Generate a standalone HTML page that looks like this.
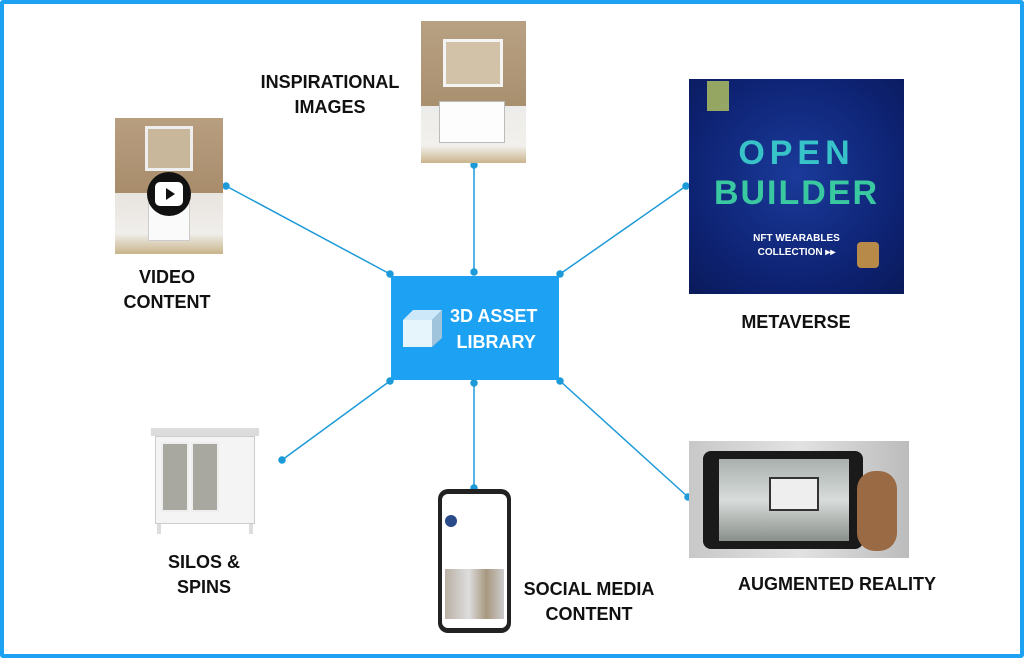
<!DOCTYPE html>
<html><head><meta charset="utf-8"><style>
*{margin:0;padding:0;box-sizing:border-box}
body{width:1024px;height:658px;background:#fff;position:relative;overflow:hidden;font-family:"Liberation Sans",sans-serif}
.frame{position:absolute;left:0;top:0;width:1024px;height:658px;border:4px solid #1da1f2;border-radius:3px}
.lbl{position:absolute;font-weight:bold;font-size:18px;color:#111;text-align:center;line-height:25px;white-space:nowrap}
.img{position:absolute;overflow:hidden}
</style></head><body>
<div class="frame"></div>
<svg width="1024" height="658" style="position:absolute;left:0;top:0">
<g stroke="#1d9ad8" stroke-width="1.5" fill="#1d9ad8">
<line x1="226" y1="186" x2="390" y2="274"/><circle cx="226" cy="186" r="3"/><circle cx="390" cy="274" r="3"/>
<line x1="474" y1="165" x2="474" y2="272"/><circle cx="474" cy="165" r="3"/><circle cx="474" cy="272" r="3"/>
<line x1="686" y1="186" x2="560" y2="274"/><circle cx="686" cy="186" r="3"/><circle cx="560" cy="274" r="3"/>
<line x1="282" y1="460" x2="390" y2="381"/><circle cx="282" cy="460" r="3"/><circle cx="390" cy="381" r="3"/>
<line x1="474" y1="383" x2="474" y2="488"/><circle cx="474" cy="383" r="3"/><circle cx="474" cy="488" r="3"/>
<line x1="688" y1="497" x2="560" y2="381"/><circle cx="688" cy="497" r="3"/><circle cx="560" cy="381" r="3"/>
</g>
</svg>
<div style="position:absolute;left:391px;top:276px;width:168px;height:104px;background:#1da1f2"></div>
<svg style="position:absolute;left:400px;top:305px" width="45" height="45">
<polygon points="3,15 13,5 42,5 32,15" fill="#cde8f8"/>
<polygon points="32,15 42,5 42,33 32,42" fill="#9fc4dc"/>
<rect x="3" y="15" width="29" height="27" fill="#e6f4fc"/>
</svg>
<div class="lbl" style="left:450px;top:303px;color:#fff;font-size:18px;line-height:26px">3D ASSET<br>&nbsp;LIBRARY</div>
<div class="img" style="left:115px;top:118px;width:108px;height:136px;background:linear-gradient(#b89f80 0,#a88c6c 55%,#e8e4df 55%,#f0eeeb 85%,#c8b48a 100%)">
<div style="position:absolute;left:30px;top:8px;width:48px;height:45px;border:3px solid #eee;background:#c9b79c"></div>
<div style="position:absolute;left:33px;top:85px;width:42px;height:38px;background:#fafafa;border:1px solid #ccc"></div>
<div style="position:absolute;left:32px;top:54px;width:44px;height:44px;border-radius:50%;background:#111"></div>
<div style="position:absolute;left:40px;top:64px;width:28px;height:24px;border-radius:5px;background:#fff"></div>
<div style="position:absolute;left:51px;top:70px;width:0;height:0;border-left:9px solid #111;border-top:6px solid transparent;border-bottom:6px solid transparent"></div>
</div>
<div class="img" style="left:421px;top:21px;width:105px;height:142px;background:linear-gradient(#b8a083 0,#a8906f 60%,#ececea 60%,#f2f0ec 88%,#c9b48c 100%)">
<div style="position:absolute;left:22px;top:18px;width:60px;height:48px;border:3px solid #f4f4f4;background:#d2c3a8"></div>
<div style="position:absolute;left:18px;top:80px;width:66px;height:42px;background:#fdfdfd;border:1px solid #bbb"></div>
</div>
<div class="img" style="left:689px;top:79px;width:215px;height:215px;background:radial-gradient(circle at 50% 45%,#1a3a9a,#0d2170 70%,#0a1a5a)">
<div style="position:absolute;left:0;width:215px;text-align:center;top:55px;font:bold 34px/38px 'Liberation Sans',sans-serif;color:#37c3c8;letter-spacing:5px">OPEN</div>
<div style="position:absolute;left:0;width:215px;text-align:center;top:95px;font:bold 34px/38px 'Liberation Sans',sans-serif;color:#3ac8a0;letter-spacing:2px">BUILDER</div>
<div style="position:absolute;left:0;width:215px;top:153px;text-align:center;color:#fff;font-size:10px;line-height:14px;font-weight:bold">NFT WEARABLES<br>COLLECTION ▸▸</div>
<div style="position:absolute;left:168px;top:163px;width:22px;height:26px;background:#b88a4a;border-radius:4px"></div>
<div style="position:absolute;left:18px;top:2px;width:22px;height:30px;background:#b8c860;opacity:.8"></div>
</div>
<div class="img" style="left:151px;top:418px;width:108px;height:116px">
<div style="position:absolute;left:0;top:10px;width:108px;height:8px;background:#dcdcdc"></div>
<div style="position:absolute;left:4px;top:18px;width:100px;height:88px;background:#f4f4f4;border:1px solid #ccc"></div>
<div style="position:absolute;left:10px;top:24px;width:28px;height:70px;background:#a8a8a0;border:2px solid #eee"></div>
<div style="position:absolute;left:40px;top:24px;width:28px;height:70px;background:#a8a8a0;border:2px solid #eee"></div>
<div style="position:absolute;left:6px;top:106px;width:4px;height:10px;background:#ddd"></div>
<div style="position:absolute;left:98px;top:106px;width:4px;height:10px;background:#ddd"></div>
</div>
<div class="img" style="left:438px;top:489px;width:73px;height:144px;background:#222;border-radius:10px">
<div style="position:absolute;left:4px;top:5px;width:65px;height:134px;background:#fff;border-radius:6px"></div>
<div style="position:absolute;left:7px;top:26px;width:12px;height:12px;border-radius:50%;background:#2a4a8a"></div>
<div style="position:absolute;left:7px;top:80px;width:59px;height:50px;background:linear-gradient(90deg,#b9b0a4,#ddd 40%,#a89880 70%,#ccc)"></div>
</div>
<div class="img" style="left:689px;top:441px;width:220px;height:117px;background:linear-gradient(90deg,#c8c8c8,#e2e2e2 50%,#bcbcbc)">
<div style="position:absolute;left:14px;top:10px;width:160px;height:98px;background:#1a1a1a;border-radius:8px"></div>
<div style="position:absolute;left:30px;top:18px;width:130px;height:82px;background:linear-gradient(#a8b0ae,#d8dcda 50%,#8a908c)"></div>
<div style="position:absolute;left:80px;top:36px;width:50px;height:34px;background:#eee;border:2px solid #333"></div>
<div style="position:absolute;left:168px;top:30px;width:40px;height:80px;background:#9a6a44;border-radius:18px"></div>
</div>
<div class="lbl" style="left:250px;top:70px;width:160px">INSPIRATIONAL<br>IMAGES</div>
<div class="lbl" style="left:107px;top:265px;width:120px">VIDEO<br>CONTENT</div>
<div class="lbl" style="left:716px;top:310px;width:160px">METAVERSE</div>
<div class="lbl" style="left:144px;top:550px;width:120px">SILOS &amp;<br>SPINS</div>
<div class="lbl" style="left:509px;top:577px;width:160px">SOCIAL MEDIA<br>CONTENT</div>
<div class="lbl" style="left:727px;top:572px;width:220px">AUGMENTED REALITY</div>
</body></html>
